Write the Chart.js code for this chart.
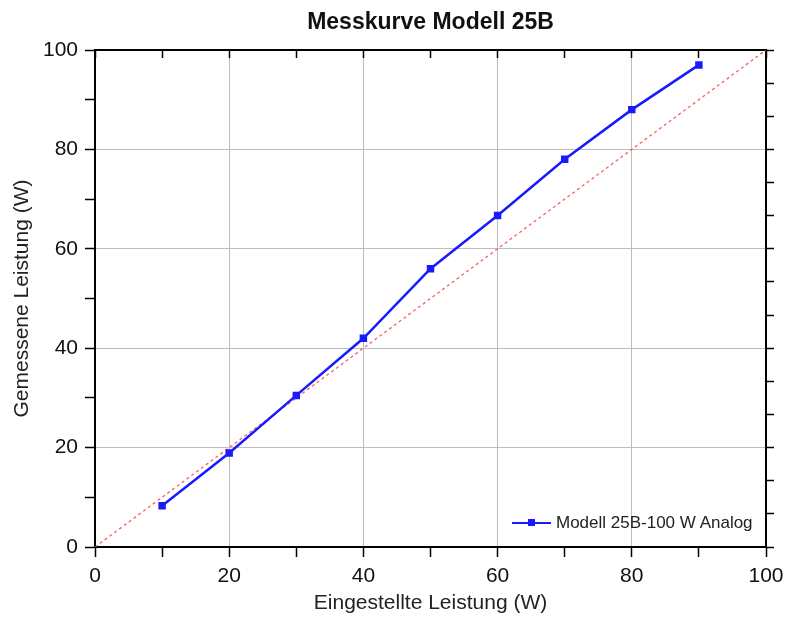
<!DOCTYPE html>
<html>
<head>
<meta charset="utf-8">
<script src="https://cdn.jsdelivr.net/npm/chart.js@4"></script>
<style>
  body { margin: 0; background: #fff; }
  #wrap { position: relative; width: 785px; height: 619px; }
  #legende {
    position: absolute; left: 512px; top: 513px;
    font: 17px "Liberation Sans", Arial, sans-serif; color: #222;
    display: flex; align-items: center; white-space: nowrap;
  }
  #legende .linie { position: relative; width: 39px; height: 2px; background: #1a1aff; margin-right: 5px; }
  #legende .linie::after {
    content: ""; position: absolute; left: 16px; top: -3px; width: 7px; height: 7px; background: #1a1aff;
  }
</style>
</head>
<body>
<div id="wrap">
  <canvas id="messChart"></canvas>
  <div id="legende"><span class="linie"></span>Modell 25B-100 W Analog</div>
</div>
<script>
// Messwerte
const eingestellt = [10, 20, 30, 40, 50, 60, 70, 80, 90];
const gemessen = [8.3, 18.9, 30.5, 42, 56, 66.7, 78, 88, 97];
// Ideallinie
const idealX = [0, 100];
const idealY = [0, 100];

const schrift = '"Liberation Sans", Arial, sans-serif';
const gitter = ctx => (ctx.tick && ctx.tick.value % 20 === 0 && ctx.tick.value > 0 && ctx.tick.value < 100) ? '#bdbdbd' : 'rgba(0,0,0,0)';
const beschriftung = v => (v % 20 === 0 ? v : '');

const ctx = document.getElementById('messChart').getContext('2d');
new Chart(ctx, {
    type: 'scatter',
    data: {
        datasets: [{
            label: 'Modell 25B-100 W Analog',
            data: eingestellt.map((x, i) => ({ x: x, y: gemessen[i] })),
            showLine: true,
            borderColor: '#1a1aff',
            backgroundColor: '#1a1aff',
            borderWidth: 2.5,
            pointStyle: 'rect',
            pointRadius: 3.5,
            order: 0
        }, {
            label: 'Ideal',
            data: idealX.map((x, i) => ({ x: x, y: idealY[i] })),
            showLine: true,
            borderColor: 'rgba(240,80,80,0.9)',
            borderWidth: 1.3,
            borderDash: [3, 3],
            pointRadius: 0,
            order: 1
        }]
    },
    options: {
        responsive: true,
        maintainAspectRatio: false,
        animation: false,
        layout: { padding: 0 },
        plugins: { legend: { display: false }, tooltip: { enabled: false }, title: { display: false } },
        scales: {
            x: {
                type: 'linear', position: 'bottom', min: 0, max: 100,
                afterFit: s => { s.height = 72; s.paddingLeft = 0; s.paddingRight = 0; },
                border: { color: '#000', width: 2 },
                grid: { color: gitter, tickColor: '#000', tickLength: 10, tickWidth: 1.5 },
                ticks: { stepSize: 10, autoSkip: false, maxRotation: 0, padding: 7, color: '#111',
                    font: { family: schrift, size: 21 }, callback: beschriftung },
                title: { display: true, text: 'Eingestellte Leistung (W)', color: '#222',
                    font: { family: schrift, size: 21 }, padding: { top: 0, bottom: 3 } }
            },
            x2: {
                type: 'linear', position: 'top', min: 0, max: 100,
                afterFit: s => { s.height = 50; s.paddingLeft = 0; s.paddingRight = 0; },
                border: { color: '#000', width: 2 },
                grid: { drawOnChartArea: false, tickColor: '#000', tickLength: -8, tickWidth: 1.5 },
                ticks: { stepSize: 10, display: false },
                title: { display: true, text: 'Messkurve Modell 25B', color: '#111',
                    font: { family: schrift, size: 23, weight: 'bold' }, padding: { top: 9, bottom: 0 } }
            },
            y: {
                type: 'linear', position: 'left', min: 0, max: 100,
                afterFit: s => { s.width = 95; s.paddingTop = 0; s.paddingBottom = 0; },
                border: { color: '#000', width: 2 },
                grid: { color: gitter, tickColor: '#000', tickLength: 10, tickWidth: 1.5 },
                ticks: { stepSize: 10, autoSkip: false, padding: 7, color: '#111',
                    font: { family: schrift, size: 21 }, callback: beschriftung },
                title: { display: true, text: 'Gemessene Leistung (W)', color: '#222',
                    font: { family: schrift, size: 21 }, padding: { top: 10, bottom: 0 } }
            },
            y2: {
                type: 'linear', position: 'right', min: 0, max: 15,
                afterFit: s => { s.width = 19; s.paddingTop = 0; s.paddingBottom = 0; },
                border: { color: '#000', width: 2 },
                grid: { drawOnChartArea: false, tickColor: '#000', tickLength: 8, tickWidth: 1.5 },
                ticks: { stepSize: 1, display: false }
            }
        }
    }
});
</script>
</body>
</html>
